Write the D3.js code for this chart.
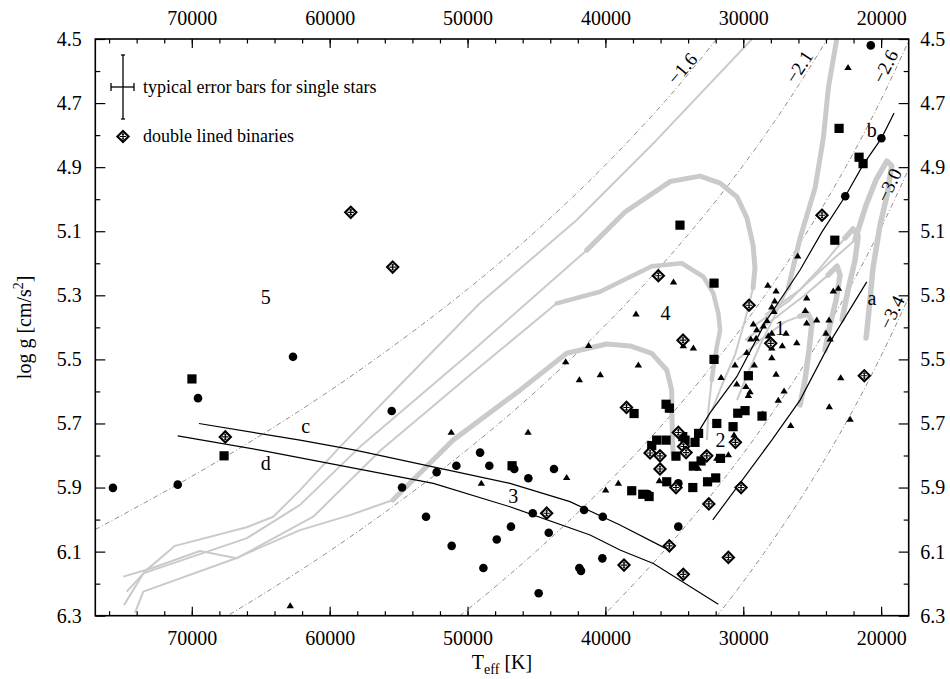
<!DOCTYPE html>
<html>
<head>
<meta charset="utf-8">
<script src="https://cdn.jsdelivr.net/npm/d3@7"></script>
<style>
  body { margin: 0; background: #fff; }
  svg text { font-family: "Liberation Serif", "Times New Roman", serif; fill: #000; }
</style>
</head>
<body>
<div id="chart"></div>
<script>
// Teff [K], log g pairs

const circles = [
  [20750,4.520],[19980,4.810],[22600,4.991],[69550,5.621],[62660,5.492],[75720,5.901],[71020,5.891],[55500,5.661],
  [49090,5.791],[50810,5.832],[48420,5.832],[46610,5.842],[52240,5.852],[45590,5.871],[43730,5.842],[54750,5.900],
  [41550,5.970],[40190,5.991],[45270,5.980],[53010,5.991],[46850,6.022],[44110,6.041],[47880,6.062],[51150,6.082],
  [40220,6.121],[48850,6.151],[41890,6.151],[41770,6.160],[44840,6.230],[34710,6.022],[34710,5.887],[36910,5.920]
];

const squares = [
  [23050,4.779],[21600,4.869],[21310,4.889],[23360,5.128],[34590,5.081],[32120,5.262],[32120,5.500],[69990,5.561],
  [67660,5.801],[46770,5.832],[29630,5.551],[35600,5.640],[35360,5.652],[37920,5.669],[30400,5.668],[29870,5.660],
  [28640,5.677],[31920,5.700],[30740,5.710],[33240,5.731],[36280,5.752],[35600,5.752],[36640,5.769],[33500,5.759],
  [34390,5.741],[34220,5.752],[34880,5.802],[33620,5.833],[33060,5.817],[31650,5.809],[35550,5.882],[33660,5.900],
  [32590,5.882],[32000,5.870],[38090,5.910],[37290,5.921],[36830,5.928]
];

const triangles = [
  [22400,4.589],[26050,5.178],[28220,5.269],[27620,5.287],[23470,5.287],[23100,5.278],[25400,5.309],[27720,5.318],
  [27930,5.337],[25500,5.348],[27770,5.351],[24670,5.377],[23780,5.377],[28280,5.379],[25400,5.387],[37780,5.359],
  [35060,5.259],[29270,5.390],[28540,5.396],[29020,5.408],[29460,5.437],[29070,5.434],[28180,5.427],[27930,5.419],
  [26900,5.419],[24000,5.419],[23700,5.437],[26120,5.448],[27170,5.458],[27930,5.465],[29750,5.479],[27930,5.495],
  [29200,5.518],[30600,5.518],[27620,5.547],[31610,5.557],[30470,5.577],[29800,5.585],[27040,5.599],[29510,5.601],
  [29630,5.613],[27460,5.628],[23760,5.648],[22930,5.558],[22250,5.687],[26560,5.707],[37610,5.518],[33620,5.465],
  [34350,5.458],[41220,5.457],[42880,5.508],[41890,5.564],[40370,5.548],[51180,5.728],[45610,5.728],[62860,6.269],
  [42810,5.869],[49000,5.887],[39980,5.908],[39060,5.887],[36090,5.879],[35310,5.658],[33260,5.729],[28600,5.671],
  [30670,5.736],[33260,5.840],[31920,5.809],[31080,5.798]
];

const diamonds = [
  [58470,5.041],[55430,5.212],[67570,5.742],[24290,5.050],[36160,5.239],[29580,5.331],[34370,5.440],[28010,5.450],
  [21220,5.551],[38470,5.650],[34710,5.728],[30570,5.759],[36760,5.792],[36040,5.801],[34330,5.772],[34150,5.791],
  [32650,5.801],[36040,5.842],[34880,5.900],[32500,5.951],[30160,5.900],[35360,6.082],[31080,6.118],[34350,6.171],
  [38650,6.142],[44260,5.980]
];

// black reference lines a, b, c, d
const lineA = [[21040,5.258],[23470,5.429],[25880,5.627],[27930,5.752],[32210,6.001]];
const lineB = [[19060,4.731],[19980,4.810],[21310,4.893],[22600,4.991],[24290,5.102],[25880,5.221],[28300,5.377],[30470,5.554],[32410,5.667],[33620,5.752]];
const lineC = [[69480,5.700],[62150,5.752],[58160,5.783],[46920,5.887],[42570,5.944],[38940,6.017],[35670,6.089]];
const lineD = [[71020,5.739],[65050,5.783],[60700,5.819],[52480,5.887],[46920,5.960],[41110,6.048],[38940,6.095],[36520,6.137],[31810,6.264]];
const lineNames = ["a", "b", "c", "d"];
const lineNamePos = [[20660,5.308],[20680,4.783],[61740,5.707],[64640,5.824]];

// dash-dotted lines, labelled at the top / right
const dd16 = [[77000,6.031],[70000,5.865],[65000,5.737],[60000,5.598],[55000,5.446],[50000,5.281],[45000,5.098],[40000,4.893],[35000,4.661],[30000,4.394]];
const dd21 = [[77000,6.531],[70000,6.365],[65000,6.237],[60000,6.098],[55000,5.946],[50000,5.781],[45000,5.598],[40000,5.393],[35000,5.161],[30000,4.894],[28000,4.774],[26000,4.645],[24000,4.506],[22000,4.355]];
const dd26 = [[55000,6.446],[50000,6.281],[45000,6.098],[40000,5.893],[35000,5.661],[30000,5.394],[28000,5.274],[26000,5.145],[24000,5.006],[22000,4.855],[20000,4.689],[18000,4.506]];
const dd30 = [[45000,6.498],[40000,6.293],[35000,6.061],[30000,5.794],[28000,5.674],[26000,5.545],[24000,5.406],[22000,5.255],[20000,5.089],[18000,4.906]];
const dd34 = [[35000,6.461],[32000,6.306],[30000,6.194],[28000,6.074],[26000,5.945],[24000,5.806],[22000,5.655],[20000,5.489],[18000,5.306]];
const ddLabels = ["\u22121.6", "\u22122.1", "\u22122.6", "\u22123.0", "\u22123.4"];
const ddLabelPos = [[34420,4.592],[25950,4.587],[19700,4.586],[19420,4.956],[19230,5.353]];
const ddLabelRot = [-49, -57, -63, -64, -64];

// grey evolutionary tracks
const thin1 = [[74720,6.225],[73270,6.157],[71220,6.082],[66020,6.024],[64090,5.991],[62150,5.908],[59250,5.773],[54900,5.580],[49090,5.324],[42080,5.065],[36280,4.815],[29360,4.500],[28060,4.441]];
const thin2 = [[74920,6.267],[73520,6.168],[66000,6.058],[62150,5.954],[57800,5.773],[49820,5.480],[41350,5.159]];
const thick2 = [[41350,5.159],[38580,5.040],[35310,4.945],[33140,4.928],[31680,4.950],[30450,4.993],[29730,5.059],[29290,5.143],[29150,5.215],[29290,5.277]];
const thin2b = [[29290,5.277],[29870,5.377],[30600,5.486],[31540,5.580],[32270,5.658]];
const thin3 = [[74970,6.178],[72910,6.152],[69410,6.098],[66740,6.121],[61190,5.991],[56280,5.783],[49820,5.549],[43530,5.325]];
const thick3 = [[43530,5.325],[40390,5.289],[36640,5.209],[34460,5.200],[32890,5.242],[32170,5.294],[31810,5.356],[31680,5.408],[31920,5.460],[32290,5.564]];
const thin3b = [[32290,5.564],[32530,5.658],[32630,5.752]];
const thin4 = [[74120,6.291],[73520,6.225],[66990,6.124],[62150,6.033],[58520,5.986],[55410,5.939]];
const thick4 = [[55410,5.939],[51050,5.752],[46190,5.596],[42810,5.481],[39900,5.452],[38210,5.458],[36640,5.481],[35550,5.533],[35190,5.596],[35170,5.689],[35090,5.798]];
const thickX = [[23120,4.441],[23220,4.500],[23830,4.653],[24190,4.809],[24790,4.965],[25880,5.121],[26730,5.277]];
const thinX = [[26730,5.277],[27690,5.361],[28780,5.455],[29870,5.564],[30450,5.627]];
const hookThinA = [[30450,5.502],[28780,5.440],[26970,5.383],[25880,5.365]];
const hookA = [[25880,5.365],[25300,5.358],[25010,5.383],[25230,5.471],[25520,5.564],[25880,5.642]];
const hookThinB = [[29870,5.440],[27690,5.371],[25520,5.299],[23850,5.237]];
const hookB = [[23850,5.237],[23200,5.209],[22980,5.237],[23270,5.315],[23710,5.393],[24070,5.471]];
const hookThinC = [[29150,5.393],[26610,5.315],[24430,5.215],[22620,5.121]];
const hookC = [[22620,5.121],[22040,5.093],[21670,5.115],[21890,5.190],[22400,5.283],[22830,5.377]];
const hookThinD = [[28420,5.361],[25880,5.283],[23710,5.196],[21890,5.127]];
const hookD = [[21890,5.127],[21090,5.018],[20370,4.940],[19590,4.881],[19230,4.896],[19570,4.987],[20080,5.081],[20590,5.215],[20950,5.377],[21090,5.433]];

const regionNames = ["1", "2", "3", "4", "5"];
const regionPos = [[27330,5.403],[31650,5.753],[46680,5.926],[35640,5.355],[64640,5.304]];

const xMajor = [70000, 60000, 50000, 40000, 30000, 20000];
const yMajor = [4.5, 4.7, 4.9, 5.1, 5.3, 5.5, 5.7, 5.9, 6.1, 6.3];
const yMinor = [4.6, 4.8, 5.0, 5.2, 5.4, 5.6, 5.8, 6.0, 6.2];

const width = 950, height = 679;
const padding = {top: 39, right: 41.3, bottom: 63.3, left: 95.3};

const svg = d3.select("#chart").append("svg")
    .attr("width", width)
    .attr("height", height);

const xScale = d3.scaleLinear()
    .domain([77000, 18000])
    .range([padding.left, width - padding.right]);
const yScale = d3.scaleLinear()
    .domain([4.5, 6.3])
    .range([padding.top, height - padding.bottom]);

const plotW = width - padding.left - padding.right;
const plotH = height - padding.top - padding.bottom;

svg.append("clipPath").attr("id", "plotClip")
  .append("rect")
    .attr("x", padding.left).attr("y", padding.top)
    .attr("width", plotW).attr("height", plotH);

const plot = svg.append("g").attr("clip-path", "url(#plotClip)");

const line = d3.line().x(d => xScale(d[0])).y(d => yScale(d[1]));
const smooth = d3.line().x(d => xScale(d[0])).y(d => yScale(d[1])).curve(d3.curveMonotoneX);

// dash-dotted lines
[dd16, dd21, dd26, dd30, dd34].forEach(pts => {
  plot.append("path")
    .attr("d", smooth(pts.slice().sort((a, b) => b[0] - a[0])))
    .attr("fill", "none")
    .attr("stroke", "#a08a78")
    .attr("stroke-width", 1)
    .attr("stroke-dasharray", "5,2.5,1,2.5");
});

// grey tracks
const grey = "#cacaca";
[thin1, thin2, thin2b, thin3, thin3b, thin4, thinX, hookThinA, hookThinB, hookThinC, hookThinD].forEach(pts => {
  plot.append("path").attr("d", line(pts))
    .attr("fill", "none").attr("stroke", grey).attr("stroke-width", 2)
    .attr("stroke-linejoin", "round");
});
[[thick2, 5], [thick3, 4.5], [thick4, 5], [thickX, 5], [hookA, 5.5], [hookB, 5.5], [hookC, 5.5], [hookD, 5.5]].forEach(([pts, w]) => {
  plot.append("path").attr("d", line(pts))
    .attr("fill", "none").attr("stroke", grey).attr("stroke-width", w)
    .attr("stroke-linejoin", "round").attr("stroke-linecap", "round");
});

// black lines a-d
[lineA, lineB, lineC, lineD].forEach(pts => {
  plot.append("path").attr("d", line(pts))
    .attr("fill", "none").attr("stroke", "#000").attr("stroke-width", 1.2);
});

// markers
plot.append("g").selectAll("circle")
  .data(circles).join("circle")
    .attr("cx", d => xScale(d[0]))
    .attr("cy", d => yScale(d[1]))
    .attr("r", 4.3);

plot.append("g").selectAll("rect")
  .data(squares).join("rect")
    .attr("x", d => xScale(d[0]) - 4.6)
    .attr("y", d => yScale(d[1]) - 4.6)
    .attr("width", 9.2).attr("height", 9.2);

plot.append("g").selectAll("path")
  .data(triangles).join("path")
    .attr("transform", d => "translate(" + xScale(d[0]) + "," + yScale(d[1]) + ")")
    .attr("d", "M0,-3.6L3.7,2.4L-3.7,2.4Z");

function drawDiamond(g) {
  g.append("path").attr("d", "M0,-5.6L5.6,0L0,5.6L-5.6,0Z")
    .attr("fill", "#fff").attr("stroke", "#000").attr("stroke-width", 2.1);
  g.append("path").attr("d", "M0,-3.4V3.4M-3.2,0H3.2M-1.2,-2.2H1.2M-1.2,2.2H1.2")
    .attr("fill", "none").attr("stroke", "#000").attr("stroke-width", 1.1);
}
plot.append("g").selectAll("g")
  .data(diamonds).join("g")
    .attr("transform", d => "translate(" + xScale(d[0]) + "," + yScale(d[1]) + ")")
    .each(function() { drawDiamond(d3.select(this)); });

// labels inside the plot
const labels = svg.append("g").attr("font-size", 20);
regionNames.forEach((t, i) => {
  labels.append("text")
    .attr("x", xScale(regionPos[i][0])).attr("y", yScale(regionPos[i][1]))
    .attr("text-anchor", "middle").attr("dominant-baseline", "central")
    .text(t);
});
lineNames.forEach((t, i) => {
  labels.append("text")
    .attr("x", xScale(lineNamePos[i][0])).attr("y", yScale(lineNamePos[i][1]))
    .attr("text-anchor", "middle").attr("dominant-baseline", "central")
    .text(t);
});
ddLabels.forEach((t, i) => {
  const px = xScale(ddLabelPos[i][0]), py = yScale(ddLabelPos[i][1]);
  labels.append("text")
    .attr("transform", "translate(" + px + "," + py + ") rotate(" + ddLabelRot[i] + ")")
    .attr("text-anchor", "middle").attr("dominant-baseline", "central")
    .attr("font-size", 19)
    .text(t);
});

// axes: ticks point inwards
const fmtY = d3.format(".1f");
function styleAxis(g) {
  g.select(".domain").remove();
  g.selectAll("line").attr("stroke", "#000").attr("stroke-width", 1.2);
  g.selectAll("text").attr("font-size", 20).attr("font-family", "Liberation Serif, serif");
}

svg.append("g")
  .attr("transform", "translate(0," + (height - padding.bottom) + ")")
  .call(d3.axisBottom(xScale).tickValues(xMajor).tickSize(-9).tickPadding(15).tickFormat(d3.format("d")))
  .call(styleAxis);
svg.append("g")
  .attr("transform", "translate(0," + (height - padding.bottom) + ")")
  .call(d3.axisBottom(xScale).tickValues(d3.range(76000, 18000, -2000)).tickSize(-4.5).tickFormat(""))
  .call(styleAxis);
svg.append("g")
  .attr("transform", "translate(0," + padding.top + ")")
  .call(d3.axisTop(xScale).tickValues(xMajor).tickSize(-9).tickPadding(14).tickFormat(d3.format("d")))
  .call(styleAxis);
svg.append("g")
  .attr("transform", "translate(0," + padding.top + ")")
  .call(d3.axisTop(xScale).tickValues(d3.range(76000, 18000, -2000)).tickSize(-4.5).tickFormat(""))
  .call(styleAxis);
svg.append("g")
  .attr("transform", "translate(" + padding.left + ",0)")
  .call(d3.axisLeft(yScale).tickValues(yMajor).tickSize(-10).tickPadding(13.5).tickFormat(fmtY))
  .call(styleAxis);
svg.append("g")
  .attr("transform", "translate(" + padding.left + ",0)")
  .call(d3.axisLeft(yScale).tickValues(yMinor).tickSize(-5).tickFormat(""))
  .call(styleAxis);
svg.append("g")
  .attr("transform", "translate(" + (width - padding.right) + ",0)")
  .call(d3.axisRight(yScale).tickValues(yMajor).tickSize(-10).tickPadding(11.5).tickFormat(fmtY))
  .call(styleAxis);
svg.append("g")
  .attr("transform", "translate(" + (width - padding.right) + ",0)")
  .call(d3.axisRight(yScale).tickValues(yMinor).tickSize(-5).tickFormat(""))
  .call(styleAxis);

// frame
svg.append("rect")
  .attr("x", padding.left).attr("y", padding.top)
  .attr("width", plotW).attr("height", plotH)
  .attr("fill", "none").attr("stroke", "#000").attr("stroke-width", 1.6);

// axis titles
const xt = svg.append("text")
  .attr("x", padding.left + plotW / 2).attr("y", 669)
  .attr("text-anchor", "middle").attr("font-size", 20);
xt.append("tspan").text("T");
xt.append("tspan").attr("dy", 5).attr("font-size", 14).text("eff");
xt.append("tspan").attr("dy", -5).text(" [K]");

const yt = svg.append("text")
  .attr("transform", "translate(31," + (padding.top + plotH / 2) + ") rotate(-90)")
  .attr("text-anchor", "middle").attr("font-size", 20);
yt.append("tspan").text("log g [cm/s");
yt.append("tspan").attr("dy", -8).attr("font-size", 14).text("2");
yt.append("tspan").attr("dy", 8).text("]");

// legend (top left corner)
const leg = svg.append("g").attr("stroke", "#000").attr("stroke-width", 1.3);
leg.append("line").attr("x1", 123).attr("x2", 123).attr("y1", 55).attr("y2", 119);
leg.append("line").attr("x1", 121).attr("x2", 125).attr("y1", 55).attr("y2", 55);
leg.append("line").attr("x1", 121).attr("x2", 125).attr("y1", 119).attr("y2", 119);
leg.append("line").attr("x1", 111).attr("x2", 134).attr("y1", 87).attr("y2", 87);
leg.append("line").attr("x1", 111).attr("x2", 111).attr("y1", 83).attr("y2", 91);
leg.append("line").attr("x1", 134).attr("x2", 134).attr("y1", 83).attr("y2", 91);
svg.append("text").attr("x", 143).attr("y", 93).attr("font-size", 18)
  .text("typical error bars for single stars");
drawDiamond(svg.append("g").attr("transform", "translate(123,136.5)"));
svg.append("text").attr("x", 143).attr("y", 142).attr("font-size", 18)
  .text("double lined binaries");
</script>
</body>
</html>
